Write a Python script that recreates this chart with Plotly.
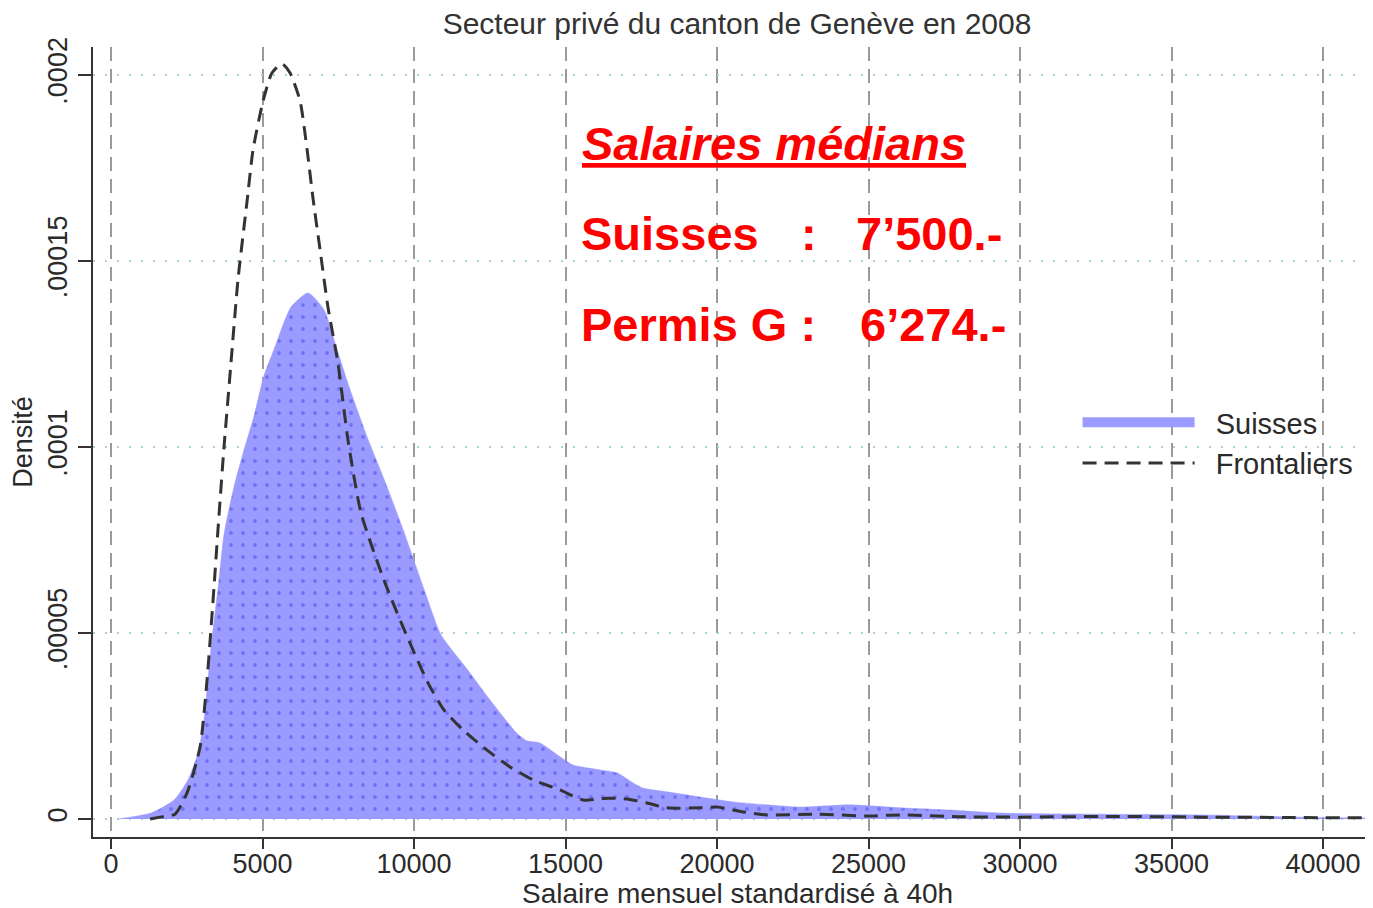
import plotly.graph_objects as go

# ---- data (density values in units of 1e-6) ----
suisses_x = [230, 1320, 2080, 2540, 2870, 3070, 3300, 3560, 3730, 4060, 4390, 4720, 5050, 5380,
             5940, 6500, 7030, 7490, 7920, 8480, 9010, 9670, 10330, 10890, 11780, 12510, 13400,
             13730, 14160, 14820, 15250, 16140, 16700, 17230, 17560, 18350, 19440, 20530, 21650,
             22740, 24390, 26040, 27690, 29340, 32640, 35940, 39240, 41390]
suisses_y = [0, 1.6, 5.1, 10.5, 17.7, 26.6, 46, 64, 76.5, 89.3, 99.2, 108.3, 119.2, 126.2,
             137.6, 141.4, 136.9, 125.4, 114.7, 102.1, 91.4, 77.1, 61.8, 49.5, 40, 32, 23,
             21, 20.4, 16.7, 14.5, 13.2, 12.4, 9.7, 8.3, 7.3, 5.9, 4.6, 3.8,
             3.2, 3.8, 3.0, 2.4, 1.6, 1.3, 1.1, 0.5, 0.3]

front_x = [1290, 1620, 2110, 2510, 2940, 3170, 3400, 3530, 3730, 3960, 4190, 4490, 4690, 5020,
           5310, 5640, 5910, 6240, 6470, 6670, 6900, 7160, 7490, 7820, 8250, 9010, 9570, 10460,
           10990, 11620, 12410, 13170, 13930, 14820, 15580, 16370, 17030, 17690, 18350, 19440,
           20000, 20860, 21650, 23300, 24950, 26040, 28000, 30000, 33000, 36000, 39000, 41400]
front_y = [0, 0.5, 1.3, 7, 19.4, 37.4, 62.4, 77.7, 100, 122.6, 144.9, 166, 180, 193,
           200.5, 203, 200.5, 193, 180, 166.6, 153, 137.6, 122.6, 101.9, 82.3, 64.2, 52.9, 36.6,
           29.3, 23.9, 18.5, 14, 10.5, 7.8, 5.1, 5.6, 5.4, 4.3, 3, 3,
           3.2, 1.9, 1.1, 1.3, 0.8, 1.1, 0.6, 0.5, 0.7, 0.5, 0.4, 0.3]

SCALE = 1e-6

x_ticks = [0, 5000, 10000, 15000, 20000, 25000, 30000, 35000, 40000]
y_ticks = [0, 0.00005, 0.0001, 0.00015, 0.0002]
y_ticktext = ["0", ".00005", ".0001", ".00015", ".0002"]

title_text = "Secteur privé du canton de Genève en 2008"
x_title = "Salaire mensuel standardisé à 40h"
y_title = "Densité"

FONT = "Liberation Sans, Arial, Helvetica, sans-serif"
TXT = "#2a2a2a"
FILL = "#9a9aff"
PATTERN = dict(shape=".", bgcolor=FILL, fgcolor="#4848f0", size=12, solidity=0.08)

# page body has an 8px margin -> figure is 8px smaller and margins shifted by 8px
W, H = 1365, 900

fig = go.Figure()
fig.add_trace(go.Scatter(
    x=suisses_x, y=[v * SCALE for v in suisses_y],
    mode="lines", name="Suisses", showlegend=False,
    line=dict(color=FILL, width=0.5, shape="spline", smoothing=0.6),
    fill="tozeroy", fillcolor=FILL, fillpattern=PATTERN,
))
# legend entry for the filled area (thick swatch)
fig.add_trace(go.Scatter(
    x=[None], y=[None], mode="lines", name="\u00a0\u00a0Suisses",
    line=dict(color=FILL, width=30),
))
fig.add_trace(go.Scatter(
    x=front_x, y=[v * SCALE for v in front_y],
    mode="lines", name="\u00a0\u00a0Frontaliers",
    line=dict(color="#333333", width=3, dash="14px,8px", shape="spline", smoothing=0.6),
))

fig.update_layout(
    width=W, height=H, autosize=False,
    margin=dict(l=85, r=3, t=39, b=71),
    paper_bgcolor="white", plot_bgcolor="white",
    font=dict(family=FONT, color=TXT, size=27),
    title=dict(text=title_text, x=729 / W, xanchor="center", y=1 - 15 / H, yanchor="middle",
               yref="container", font=dict(size=30, color="#333333")),
    showlegend=True,
    legend=dict(x=0.771, y=0.557, xanchor="left", yanchor="top", bgcolor="rgba(0,0,0,0)",
                font=dict(size=29, color=TXT), itemwidth=112, tracegroupgap=0),
)

fig.update_xaxes(
    range=[-594, 41550], tickvals=x_ticks, ticktext=[str(v) for v in x_ticks],
    automargin=False,
    showline=True, linecolor="#333333", linewidth=2,
    ticks="outside", ticklen=10, tickwidth=2, tickcolor="#333333",
    tickfont=dict(size=27, color=TXT), ticklabelstandoff=-8,
    showgrid=True, gridcolor="#9a9a9a", gridwidth=2, griddash="14px,8px",
    zeroline=False,
)
fig.update_yaxes(
    range=[-0.00000484, 0.0002075], tickvals=y_ticks, ticktext=y_ticktext, tickangle=-90,
    automargin=False,
    showline=True, linecolor="#333333", linewidth=2,
    ticks="outside", ticklen=13, tickwidth=2, tickcolor="#333333",
    tickfont=dict(size=27, color=TXT),
    showgrid=True, gridcolor="#a6d2d2", gridwidth=1.5, griddash="2px,10px",
    zeroline=False,
    title=dict(text=y_title, font=dict(size=27, color=TXT), standoff=6),
)

def px2paper_x(px):
    return (px - 93) / 1277.0
def py2paper_y(py):
    return (837 - py) / 790.0

# x-axis title placed under the tick labels
fig.add_annotation(text=x_title, x=px2paper_x(737), y=py2paper_y(893), xref="paper", yref="paper",
                   xanchor="center", yanchor="middle", showarrow=False,
                   font=dict(family=FONT, size=28, color=TXT))

RED = "#ff0000"
ann = [
    ("<b><i><u>Salaires médians</u></i></b>", 580, 143),
    ("<b>Suisses</b>", 579, 233),
    ("<b>:</b>", 799, 233),
    ("<b>7’500.-</b>", 854, 233),
    ("<b>Permis G :</b>", 579, 324),
    ("<b>6’274.-</b>", 858, 324),
]
for text, px, py in ann:
    fig.add_annotation(text=text, x=px2paper_x(px), y=py2paper_y(py), xref="paper", yref="paper",
                       xanchor="left", yanchor="middle", showarrow=False,
                       font=dict(family=FONT, size=47, color=RED))

fig.write_html("out.html")
